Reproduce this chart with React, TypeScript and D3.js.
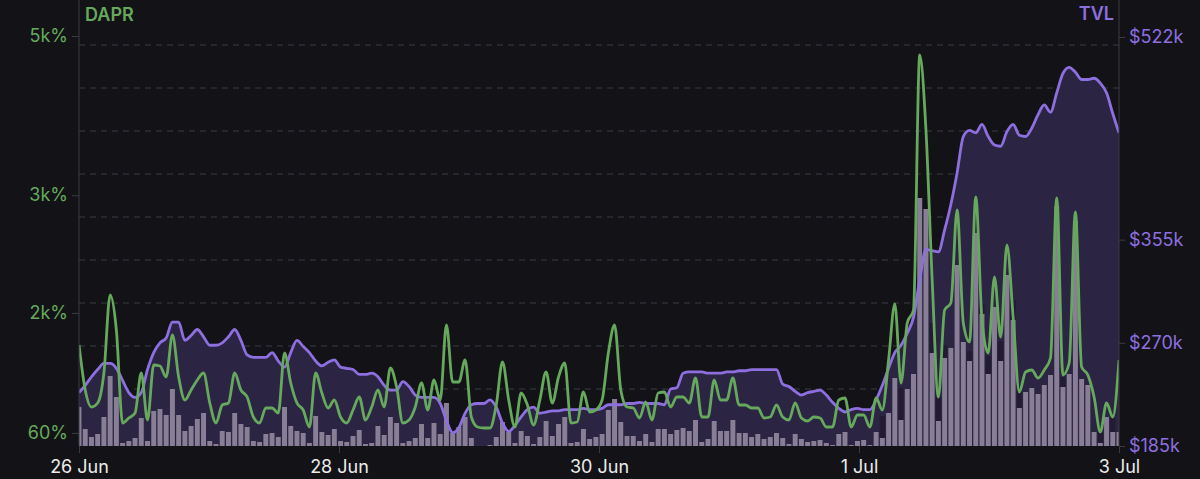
import React, { useEffect, useRef } from "react";
import * as d3 from "d3";

const WIDTH = 1200;
const HEIGHT = 479;
const plot = { left: 79, right: 1119, top: 0, bottom: 446 };

const xTickLabels = ["26 Jun", "28 Jun", "30 Jun", "1 Jul", "3 Jul"];
const daprTicks = [60, 1620, 3150, 5220];
const daprTickLabels = ["60%", "2k%", "3k%", "5k%"];
const tvlTicks = [185, 270, 355, 522];
const tvlTickLabels = ["$185k", "$270k", "$355k", "$522k"];

// hourly DAPR (%)
const dapr = [
  1203, 618, 397, 449, 839, 1853, 1398, 189, 254, 319, 839, 228, 943, 930, 787, 1333, 787, 488, 618, 748,
  839, 449, 189, 423, 449, 839, 618, 527, 267, 189, 384, 384, 319, 1099,
  709, 449, 358, 137, 839, 579, 384, 488, 267, 189, 358, 527, 228, 397, 618, 397, 904, 657, 189, 228,
  397, 709, 358, 748, 488, 1463, 722, 722, 1008, 267, 137, 124, 124, 423,
  982, 488, 137, 579, 423, 163, 488, 852, 449, 787, 969, 189, 202, 592, 332, 358, 488, 1099, 1463, 618,
  397, 384, 254, 462, 228, 579, 592, 397, 527, 527, 449, 774, 267,
  267, 748, 488, 488, 774, 423, 423, 384, 384, 254, 267, 423, 267, 228, 449, 254, 215, 267, 254, 137,
  137, 488, 514, 137, 293, 293, 137, 514, 358, 1008, 1736, 709, 1489, 1658,
  4973, 4000, 2048, 527, 1658, 1749, 2958, 1489, 1242, 3127, 1528, 1099, 2087, 1307, 2503, 1567, 592, 852, 878, 774,
  878, 1034, 3114, 813, 969, 2932, 917, 813, 527, 72, 449, 267, 1008,
];

// hourly TVL ($k)
const tvl = [
  229, 235, 242, 248, 253, 253, 249, 239, 229, 225, 229, 248, 262, 270, 274, 287, 287, 272, 276, 281,
  275, 268, 268, 270, 275, 281, 272, 260, 258, 258, 258, 262, 255, 250,
  262, 272, 267, 262, 255, 251, 254, 256, 250, 249, 248, 244, 244, 245, 242, 235, 231, 231, 238, 234,
  227, 225, 225, 225, 220, 206, 196, 200, 212, 219, 220, 220, 223, 217,
  204, 197, 202, 209, 215, 217, 212, 213, 214, 214, 215, 215, 215, 216, 215, 215, 216, 219, 219, 219,
  220, 220, 221, 220, 220, 220, 219, 232, 233, 245, 246, 246, 246,
  245, 245, 245, 246, 246, 247, 247, 248, 248, 248, 248, 248, 236, 234, 230, 227, 229, 230, 231, 227,
  221, 216, 213, 215, 216, 215, 215, 223, 235, 249, 262, 268, 278, 291,
  322, 347, 346, 345, 363, 384, 410, 440, 445, 443, 450, 440, 433, 432, 444, 450, 441, 440, 447, 458,
  466, 460, 476, 492, 497, 493, 487, 487, 488, 484, 476, 459, 443,
];

// hourly volume bars (light part) and darker extra on top
const volume = [
  39, 17, 9, 12, 29, 70, 49, 3, 5, 8, 28, 5, 35, 37, 31, 57, 31, 15, 20, 27,
  33, 5, 2, 15, 14, 33, 22, 19, 5, 4, 12, 13, 9, 39,
  20, 15, 13, 3, 30, 14, 11, 17, 5, 4, 10, 16, 2, 3, 20, 11, 29, 23, 3, 5,
  8, 22, 8, 23, 12, 43, 13, 19, 29, 8, 0, 0, 1, 9,
  24, 14, 3, 15, 10, 2, 9, 25, 10, 22, 29, 3, 4, 17, 7, 9, 12, 36, 47, 24,
  10, 10, 5, 12, 4, 17, 17, 12, 16, 18, 15, 26, 4,
  7, 25, 15, 15, 26, 13, 13, 9, 12, 7, 9, 13, 8, 2, 12, 7, 4, 5, 6, 3,
  1, 12, 14, 1, 5, 6, 1, 14, 8, 33, 68, 26, 57, 72,
  248, 237, 93, 25, 88, 98, 181, 104, 85, 213, 132, 72, 139, 85, 171, 126, 38, 54, 58, 52,
  61, 71, 240, 59, 72, 225, 67, 61, 14, 3, 29, 14, 14,
];

const volumeExtra = [
  0, 0, 0, 0, 0, 0, 0, 0, 0, 0, 0, 0, 0, 0, 0, 0, 0, 0, 0, 0,
  0, 0, 0, 0, 0, 0, 0, 0, 0, 0, 0, 0, 0, 0,
  0, 0, 0, 0, 0, 0, 0, 0, 0, 0, 0, 0, 0, 0, 0, 0, 0, 0, 0, 0,
  0, 0, 0, 0, 0, 0, 0, 0, 0, 0, 0, 0, 0, 0,
  0, 0, 0, 0, 0, 0, 0, 0, 0, 0, 0, 0, 0, 0, 0, 0, 0, 0, 0, 0,
  0, 0, 0, 0, 0, 0, 0, 0, 0, 0, 0, 0, 0,
  0, 0, 0, 0, 0, 0, 0, 0, 0, 0, 0, 0, 0, 0, 0, 0, 0, 0, 0, 0,
  0, 0, 0, 0, 0, 0, 0, 0, 22, 0, 0, 32, 0, 0,
  0, 0, 30, 24, 13, 0, 0, 0, 10, 0, 10, 18, 0, 20, 0, 20, 17, 0, 0, 0,
  0, 0, 0, 10, 0, 0, 0, 0, 0, 11, 0, 15, 0,
];

const GREEN = "#66a95c";
const PURPLE = "#8e6fe0";

export default function App() {
  const ref = useRef<SVGSVGElement>(null);

  useEffect(() => {
    const svg = d3.select(ref.current);
    svg.selectAll("*").remove();

    const n = tvl.length;
    const x = d3.scaleLinear().domain([0, n - 1]).range([plot.left, plot.right]);
    const yDapr = d3.scaleLinear().domain([-110, 5220]).range([plot.bottom, 36]);
    const yTvl = d3.scaleLinear().domain([185, 522]).range([plot.bottom, 37]);
    const yVol = d3.scaleLinear().domain([0, 250]).range([plot.bottom, 196]);
    const gridY = d3.scaleLinear().domain([0, 9]).range([432, 45]);
    const step = x(1) - x(0);
    const barW = step * 0.8;

    svg.append("rect").attr("width", WIDTH).attr("height", HEIGHT).attr("fill", "#131317");

    svg
      .append("defs")
      .append("clipPath")
      .attr("id", "plot-clip")
      .append("rect")
      .attr("x", plot.left)
      .attr("y", plot.top)
      .attr("width", plot.right - plot.left)
      .attr("height", plot.bottom - plot.top);

    // dashed grid
    svg
      .append("g")
      .selectAll("line")
      .data(d3.range(10))
      .join("line")
      .attr("x1", plot.left)
      .attr("x2", plot.right)
      .attr("y1", (d) => gridY(d))
      .attr("y2", (d) => gridY(d))
      .attr("stroke", "#3b3b45")
      .attr("stroke-dasharray", "6,5");

    const body = svg.append("g").attr("clip-path", "url(#plot-clip)");

    const area = d3
      .area<number>()
      .x((_, i) => x(i))
      .y0(plot.bottom)
      .y1((d) => yTvl(d))
      .curve(d3.curveMonotoneX);
    body.append("path").datum(tvl).attr("d", area).attr("fill", "#2b2443");

    body
      .selectAll(".bar-dark")
      .data(volume)
      .join("rect")
      .attr("class", "bar-dark")
      .attr("x", (_, i) => x(i) - barW / 2)
      .attr("width", barW)
      .attr("y", (d, i) => yVol(d + volumeExtra[i]))
      .attr("height", (d, i) => plot.bottom - yVol(d + volumeExtra[i]))
      .attr("fill", "#221b31");

    body
      .selectAll(".bar")
      .data(volume)
      .join("rect")
      .attr("class", "bar")
      .attr("x", (_, i) => x(i) - barW / 2)
      .attr("width", barW)
      .attr("y", (d) => yVol(d))
      .attr("height", (d) => plot.bottom - yVol(d))
      .attr("fill", "#887f96");

    const tvlLine = d3
      .line<number>()
      .x((_, i) => x(i))
      .y((d) => yTvl(d))
      .curve(d3.curveMonotoneX);
    body
      .append("path")
      .datum(tvl)
      .attr("d", tvlLine)
      .attr("fill", "none")
      .attr("stroke", PURPLE)
      .attr("stroke-width", 2.8);

    const daprLine = d3
      .line<number>()
      .x((_, i) => x(i))
      .y((d) => yDapr(d))
      .curve(d3.curveMonotoneX);
    body
      .append("path")
      .datum(dapr)
      .attr("d", daprLine)
      .attr("fill", "none")
      .attr("stroke", GREEN)
      .attr("stroke-width", 2.8);

    // axes
    const styleAxis = (g, color) => {
      g.select(".domain").remove();
      g.selectAll(".tick line").attr("stroke", "#3a3a42");
      g.selectAll("text")
        .attr("fill", color)
        .style("font-family", "Inter, 'Noto Sans', sans-serif")
        .style("font-size", "18px");
    };

    svg
      .append("g")
      .attr("transform", `translate(${plot.left},0)`)
      .call(
        d3
          .axisLeft(yDapr)
          .tickValues(daprTicks)
          .tickFormat((_, i) => daprTickLabels[i])
          .tickSize(7)
          .tickPadding(4)
      )
      .call((g) => styleAxis(g, GREEN));

    svg
      .append("g")
      .attr("transform", `translate(${plot.right},0)`)
      .call(
        d3
          .axisRight(yTvl)
          .tickValues(tvlTicks)
          .tickFormat((_, i) => tvlTickLabels[i])
          .tickSize(6)
          .tickPadding(4)
      )
      .call((g) => styleAxis(g, PURPLE));

    svg
      .append("g")
      .attr("transform", `translate(0,${plot.bottom})`)
      .call(
        d3
          .axisBottom(x)
          .tickValues(xTickLabels.map((_, k) => (k * (n - 1)) / (xTickLabels.length - 1)))
          .tickFormat((_, i) => xTickLabels[i])
          .tickSize(7)
          .tickPadding(7)
      )
      .call((g) => styleAxis(g, "#ececec"));

    svg
      .selectAll(".vline")
      .data([plot.left, plot.right])
      .join("line")
      .attr("class", "vline")
      .attr("x1", (d) => d)
      .attr("x2", (d) => d)
      .attr("y1", 0)
      .attr("y2", plot.bottom)
      .attr("stroke", "#3a3a42");

    svg
      .append("text")
      .attr("x", 85)
      .attr("y", 21)
      .attr("fill", GREEN)
      .style("font-family", "Inter, 'Noto Sans', sans-serif")
      .style("font-size", "18px")
      .style("font-weight", 600)
      .text("DAPR");

    svg
      .append("text")
      .attr("x", 1114)
      .attr("y", 20)
      .attr("text-anchor", "end")
      .attr("fill", PURPLE)
      .style("font-family", "Inter, 'Noto Sans', sans-serif")
      .style("font-size", "18px")
      .style("font-weight", 600)
      .text("TVL");
  }, []);

  return (
    <div style={{ position: "absolute", left: 0, top: 0, width: WIDTH, height: HEIGHT }}>
      <svg ref={ref} width={WIDTH} height={HEIGHT} style={{ display: "block" }} />
    </div>
  );
}
